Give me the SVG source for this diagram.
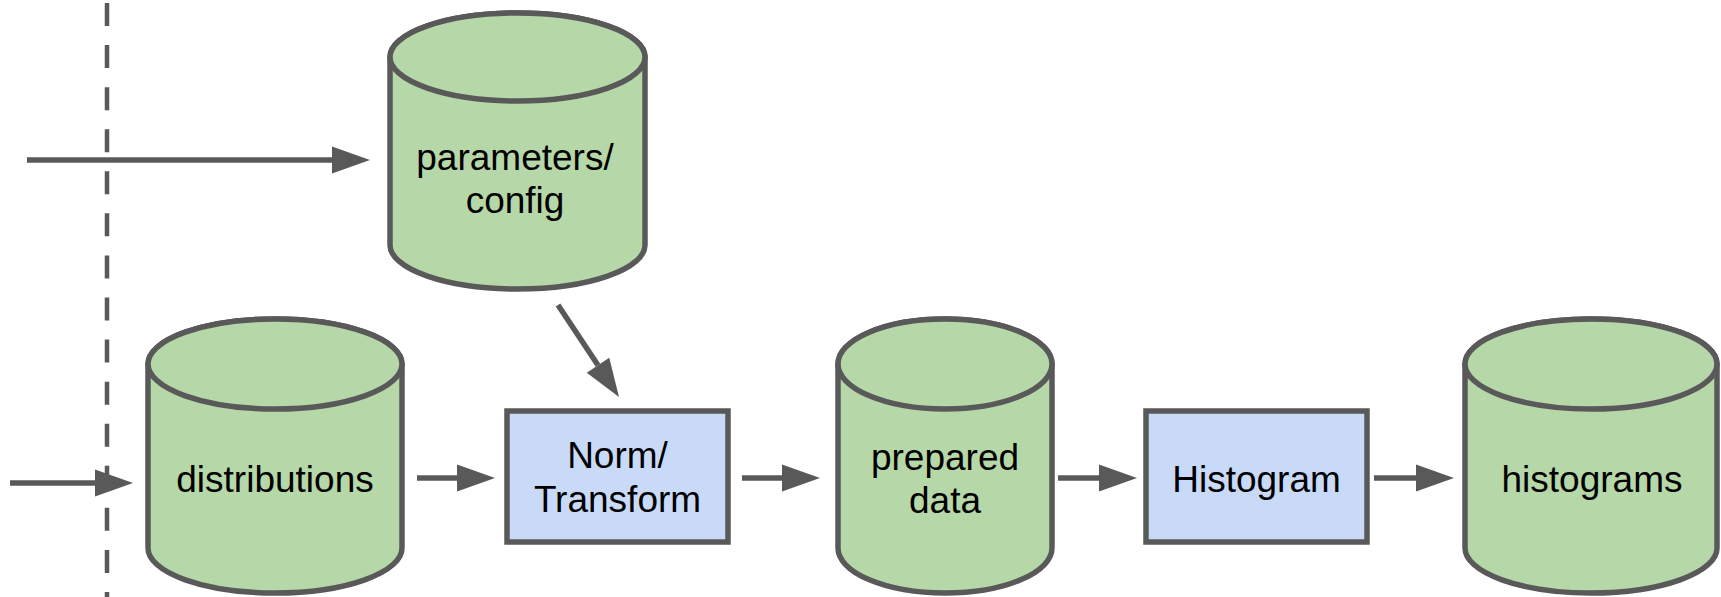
<svg xmlns="http://www.w3.org/2000/svg" width="1721" height="597" viewBox="0 0 1721 597">
<style>
.cyl{fill:#b6d7a8;stroke:#595959;stroke-width:5.5}
.box{fill:#c9daf8;stroke:#595959;stroke-width:5.5}
.lbl{font-family:"Liberation Sans",Arial,sans-serif;font-size:37px;fill:#000;text-anchor:middle}
.con{stroke:#595959;stroke-width:5.5;fill:none;marker-end:url(#ah)}
</style>
<defs>
<marker id="ah" markerUnits="userSpaceOnUse" markerWidth="40" markerHeight="30" refX="0" refY="13.5" orient="auto" viewBox="0 0 40 30" overflow="visible">
<path d="M0,0 L38,13.5 L0,27 Z" fill="#595959"/>
</marker>
</defs>
<line x1="107" y1="3" x2="107" y2="597" stroke="#595959" stroke-width="4.5" stroke-dasharray="23 19.07"/>
<g id="params">
<path class="cyl" d="M390,57 V245 A127.5,44 0 0 0 645,245 V57 A127.5,44 0 0 0 390,57 Z"/>
<ellipse class="cyl" cx="517.5" cy="57" rx="127.5" ry="44"/>
<text class="lbl" x="515" y="170">parameters/</text>
<text class="lbl" x="515" y="213">config</text>
</g>
<g id="distributions">
<path class="cyl" d="M148,364 V548 A127,45 0 0 0 402,548 V364 A127,45 0 0 0 148,364 Z"/>
<ellipse class="cyl" cx="275" cy="364" rx="127" ry="45"/>
<text class="lbl" x="275" y="492">distributions</text>
</g>
<g id="norm">
<rect class="box" x="507" y="411" width="221" height="131"/>
<text class="lbl" x="617.5" y="468">Norm/</text>
<text class="lbl" x="617.5" y="512">Transform</text>
</g>
<g id="prepared">
<path class="cyl" d="M838,364 V548 A107,45 0 0 0 1052,548 V364 A107,45 0 0 0 838,364 Z"/>
<ellipse class="cyl" cx="945" cy="364" rx="107" ry="45"/>
<text class="lbl" x="945" y="470">prepared</text>
<text class="lbl" x="945" y="513">data</text>
</g>
<g id="histogram">
<rect class="box" x="1146" y="411" width="221" height="131"/>
<text class="lbl" x="1256.5" y="492">Histogram</text>
</g>
<g id="histograms">
<path class="cyl" d="M1465,364 V548 A126,45 0 0 0 1717,548 V364 A126,45 0 0 0 1465,364 Z"/>
<ellipse class="cyl" cx="1591" cy="364" rx="126" ry="45"/>
<text class="lbl" x="1592" y="492">histograms</text>
</g>
<g id="connectors">
<line class="con" x1="27" y1="160" x2="332" y2="160"/>
<line class="con" x1="10" y1="483" x2="95" y2="483"/>
<line class="con" x1="558" y1="305" x2="598" y2="365.3"/>
<line class="con" x1="417" y1="478" x2="457" y2="478"/>
<line class="con" x1="742" y1="478" x2="782" y2="478"/>
<line class="con" x1="1058" y1="478" x2="1099" y2="478"/>
<line class="con" x1="1374" y1="478" x2="1416" y2="478"/>
</g>
</svg>
